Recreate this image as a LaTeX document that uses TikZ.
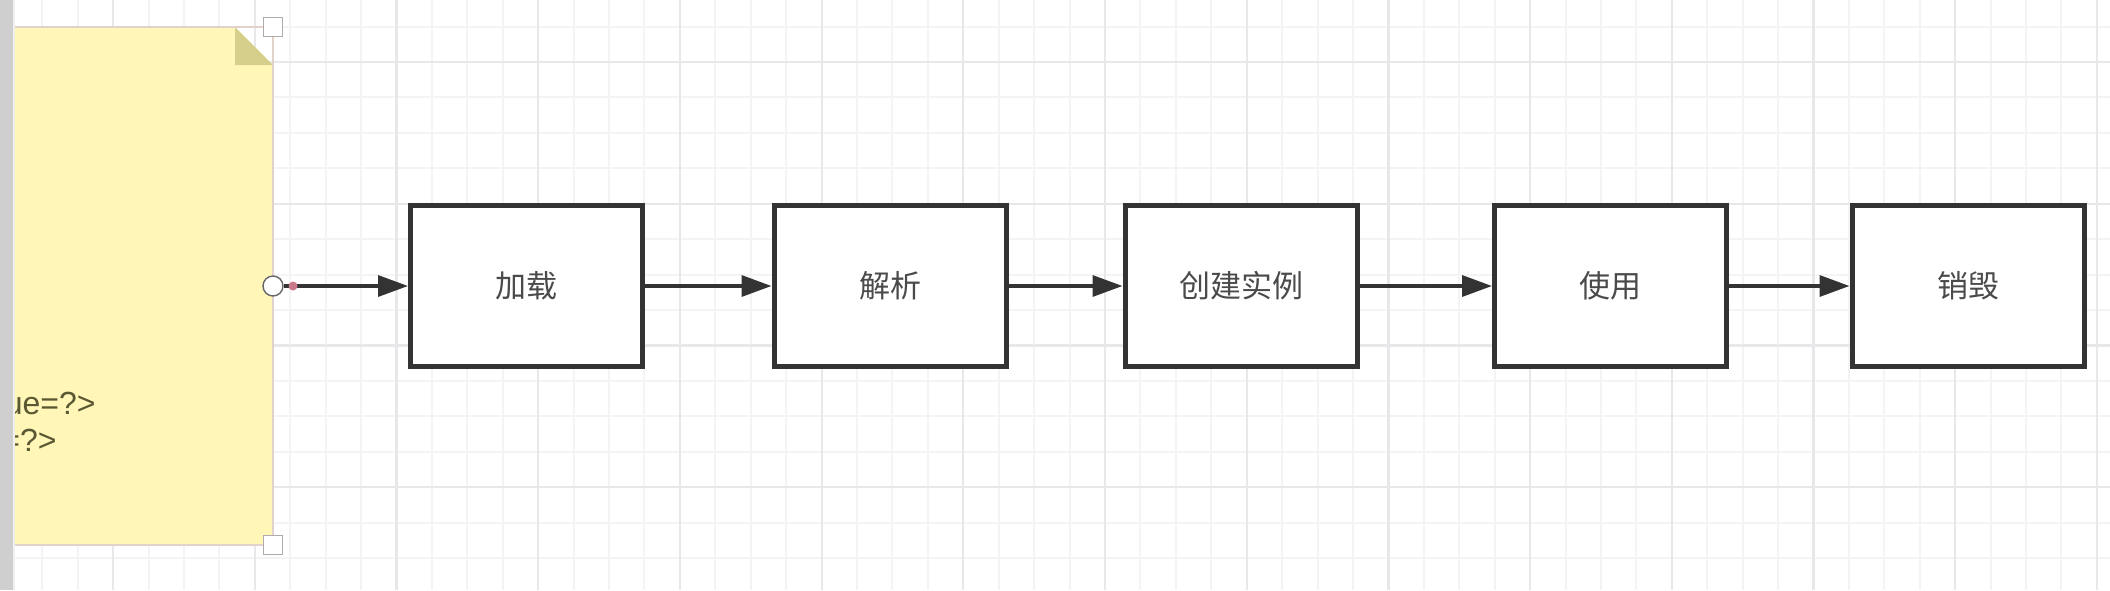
\documentclass[tikz,border=0pt]{standalone}
\usepackage{fontspec}
\setmainfont{Liberation Sans}
\newfontfamily\cjk{Noto Sans CJK SC}
\usetikzlibrary{arrows.meta}
\definecolor{notefill}{HTML}{FFF6B8}
\definecolor{foldfill}{HTML}{D6CF8C}
\definecolor{noteline}{HTML}{E3D2CB}
\definecolor{minorgrid}{HTML}{F4F4F6}
\definecolor{majorgrid}{HTML}{E8E8EB}
\definecolor{boxline}{HTML}{333333}
\definecolor{labeltext}{HTML}{4A4A4A}
\definecolor{notetext}{HTML}{5A5832}
\definecolor{sidebar}{HTML}{CFCFCF}
\definecolor{pinkdot}{HTML}{C9788A}
\begin{document}
\begin{tikzpicture}[x=0.5pt,y=-0.5pt,
  minorln/.style={draw=minorgrid,line width=1pt},
  majorln/.style={draw=majorgrid,line width=1.1pt},
  stepbox/.style={draw=boxline,line width=2.5pt,fill=white,minimum width=116pt,minimum height=80.5pt,inner sep=0pt,text=labeltext,font=\cjk\fontsize{15.5pt}{18pt}\selectfont},
  conn/.style={draw=boxline,line width=1.7pt,-{Triangle[length=15pt,width=10.5pt]}},
  handle/.style={draw=gray!65,fill=white,line width=0.6pt,minimum size=9.5pt,inner sep=0pt,rectangle},
  notelabel/.style={text=notetext,inner sep=0pt,font=\fontsize{16pt}{19pt}\selectfont}]
\useasboundingbox (0,0) rectangle (2110,590);
\fill[white] (0,0) rectangle (2110,590);
% grid
\foreach \i in {0,...,59} {\draw[minorln] ({6.8+\i*35.425},0) -- ({6.8+\i*35.425},590);}
\foreach \j in {0,...,16} {\draw[minorln] (0,{26.6+\j*35.425}) -- (2110,{26.6+\j*35.425});}
\foreach \k in {0,...,14} {\draw[majorln] ({113.1+\k*141.7},0) -- ({113.1+\k*141.7},590);}
\foreach \k in {0,...,3} {\draw[majorln] (0,{62+\k*141.7}) -- (2110,{62+\k*141.7});}
% note
\fill[notefill] (14,27) -- (235,27) -- (273,65) -- (273,545) -- (14,545) -- cycle;
\fill[foldfill] (235,27) -- (235,65) -- (273,65) -- cycle;
\draw[noteline,line width=0.8pt] (14,27) rectangle (273,545);
\node[notelabel,anchor=east] (t1) at (96,403) {ue=?>};
\node[notelabel,anchor=east] (t2) at (57,440) {=?>};
\fill[sidebar] (0,0) rectangle (13,590);
\fill[gray!12] (13,0) rectangle (15,590);
\node[handle] (h1) at (273,27) {};
\node[handle] (h2) at (273,545) {};
% boxes
\node[stepbox] (b1) at (526.5,286) {加载};
\node[stepbox] (b2) at (890,286) {解析};
\node[stepbox] (b3) at (1241,286) {创建实例};
\node[stepbox] (b4) at (1610.5,286) {使用};
\node[stepbox] (b5) at (1968,286) {销毁};
% source handle
\node[circle,draw=gray!80!black,fill=white,line width=0.7pt,minimum size=10pt,inner sep=0pt] (src) at (273,286) {};
% connectors
\draw[conn] (src.east) -- (b1.west);
\draw[conn] (b1.east) -- (b2.west);
\draw[conn] (b2.east) -- (b3.west);
\draw[conn] (b3.east) -- (b4.west);
\draw[conn] (b4.east) -- (b5.west);
\node[circle,fill=pinkdot,minimum size=4.5pt,inner sep=0pt] (pd) at (293,286) {};
\end{tikzpicture}
\end{document}
